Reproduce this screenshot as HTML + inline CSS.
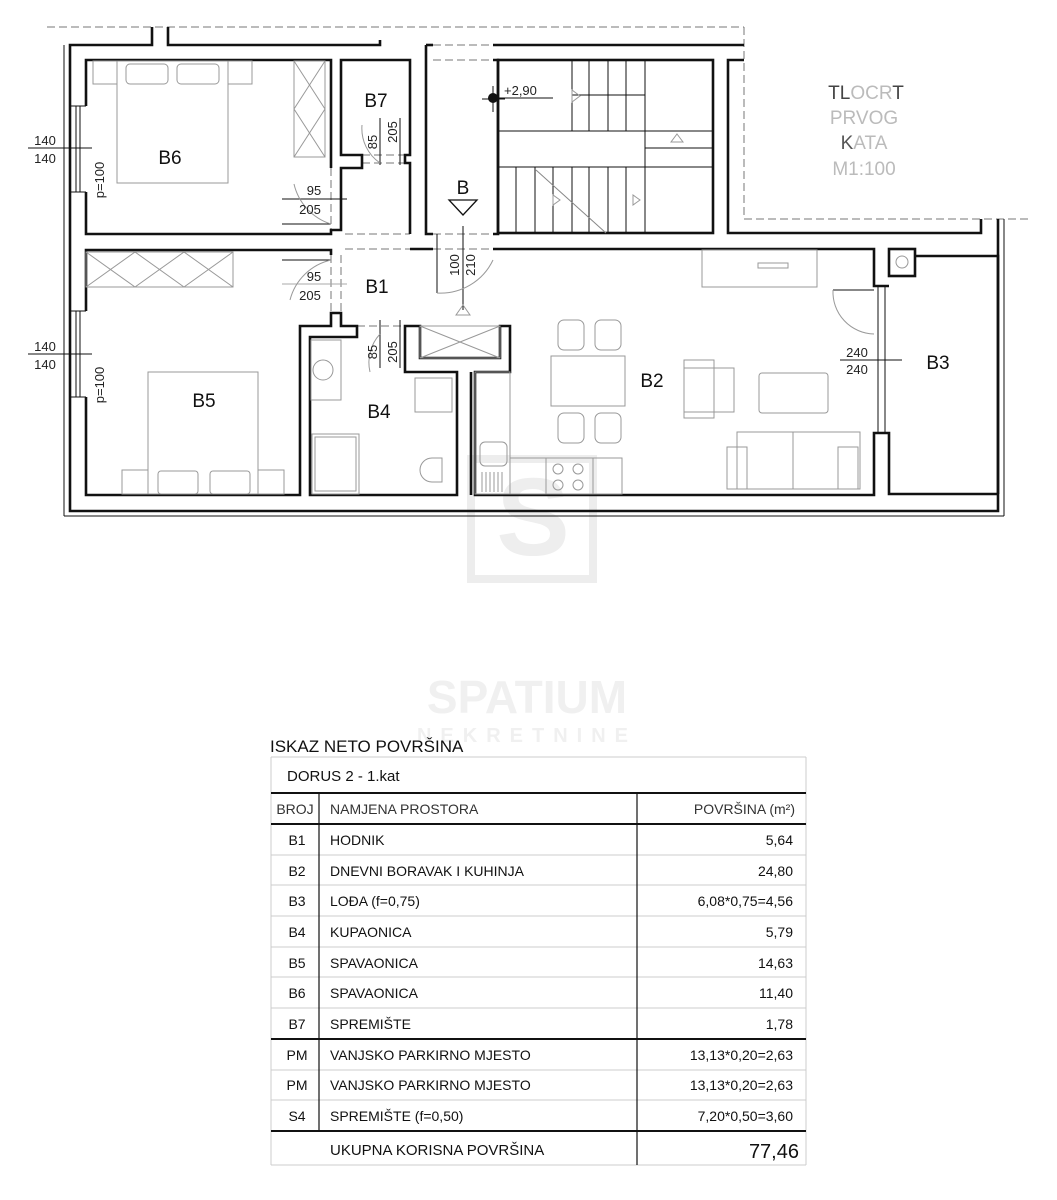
<!DOCTYPE html>
<html><head><meta charset="utf-8"><style>
html,body{margin:0;padding:0;background:#fff;}
body{width:1057px;height:1200px;position:relative;overflow:hidden;font-family:"Liberation Sans",sans-serif;}
svg{position:absolute;left:0;top:0;}
</style></head><body>
<svg width="1057" height="1200" viewBox="0 0 1057 1200" xmlns="http://www.w3.org/2000/svg" font-family="Liberation Sans, sans-serif">
<!-- watermark -->
<rect x="471" y="459" width="122" height="120" fill="none" stroke="#ededed" stroke-width="8"/>
<text x="533" y="555" font-size="110" fill="#eeeeee" text-anchor="middle" font-weight="bold">S</text>
<text x="527" y="713" font-size="46" fill="#f0f0f0" text-anchor="middle" font-weight="bold">SPATIUM</text>
<text x="527" y="742" font-size="20" fill="#f0f0f0" text-anchor="middle" font-weight="bold" letter-spacing="9">NEKRETNINE</text>

<!-- dashed outlines -->
<g stroke="#777" stroke-width="1" fill="none" stroke-dasharray="8,4">
<line x1="47" y1="27" x2="744" y2="27"/>
<line x1="744" y1="27" x2="744" y2="219"/>
<line x1="744" y1="219" x2="1032" y2="219"/>
<line x1="331" y1="168" x2="331" y2="230"/><line x1="341" y1="168" x2="341" y2="230"/>
<line x1="331" y1="255" x2="331" y2="313"/><line x1="341" y1="255" x2="341" y2="313"/>
<line x1="345" y1="234" x2="410" y2="234"/><line x1="345" y1="249" x2="410" y2="249"/>
<line x1="362" y1="155" x2="405" y2="155"/><line x1="362" y1="163" x2="405" y2="163"/>
<line x1="357" y1="326" x2="405" y2="326"/>
<line x1="433" y1="45" x2="493" y2="45"/><line x1="433" y1="60" x2="493" y2="60"/>
<line x1="433" y1="234" x2="493" y2="234"/><line x1="433" y1="249" x2="493" y2="249"/>
</g>

<!-- walls -->
<g stroke="#111" stroke-width="2.6" fill="none" stroke-linejoin="miter">
<!-- outer top -->
<polyline points="152,27 152,45 70,45 70,511 998,511 998,219"/>
<polyline points="168,27 168,45 380,45 380,40"/>
<line x1="493" y1="45" x2="744" y2="45"/>
<line x1="426" y1="45" x2="433" y2="45"/>
<!-- left inner -->
<polyline points="86,106 86,60 331,60 331,168"/>
<polyline points="86,192 86,234 331,234 331,230 341,230 341,168 362,168 362,155 341,155 341,60 410,60 410,155 405,155 405,163 410,163 410,234"/>
<polyline points="86,311 86,250 331,250 331,255"/>
<polyline points="86,397 86,495 300,495 300,326 331,326 331,313 341,313 341,326 357,326 357,337 310,337 310,495 457,495 457,372 405,372 405,337 405,326 420,326 420,358 500,358 500,326 510,326 510,372 475,372 475,495 874,495 874,433 889,433 889,494 998,494"/>
<line x1="471" y1="372" x2="471" y2="495"/>
<!-- stair hall -->
<polyline points="426,45 426,234 433,234"/>
<polyline points="433,60 433,60"/>
<polyline points="410,249 433,249"/>
<polyline points="493,249 874,249 874,286 889,286"/>
<polyline points="493,234 498,234 498,60 493,60"/>
<rect x="498" y="60" width="215" height="173"/>
<polyline points="744,60 728,60 728,233 981,233 981,219"/>
<rect x="889" y="249" width="26" height="27"/>
<polyline points="915,256 998,256 998,494"/>
</g>
<g stroke="#111" stroke-width="1" fill="none">
<line x1="64" y1="45" x2="64" y2="516"/><line x1="64" y1="516" x2="1004" y2="516"/>
<line x1="1004" y1="219" x2="1004" y2="516"/>
<line x1="70" y1="106" x2="86" y2="106"/><line x1="70" y1="192" x2="86" y2="192"/>
<line x1="76" y1="106" x2="76" y2="192"/><line x1="80" y1="106" x2="80" y2="192"/>
<line x1="70" y1="311" x2="86" y2="311"/><line x1="70" y1="397" x2="86" y2="397"/>
<line x1="76" y1="311" x2="76" y2="397"/><line x1="80" y1="311" x2="80" y2="397"/>
<line x1="878" y1="286" x2="878" y2="433"/><line x1="885" y1="286" x2="885" y2="433"/>
<!-- stairs -->
<line x1="572" y1="60" x2="572" y2="131"/><line x1="589" y1="60" x2="589" y2="131"/>
<line x1="608" y1="60" x2="608" y2="131"/><line x1="626" y1="60" x2="626" y2="131"/>
<line x1="645" y1="60" x2="645" y2="233"/>
<line x1="498" y1="131" x2="713" y2="131"/><line x1="498" y1="167" x2="713" y2="167"/>
<line x1="645" y1="148" x2="713" y2="148"/><line x1="572" y1="95" x2="645" y2="95"/>
<line x1="516" y1="167" x2="516" y2="233"/><line x1="535" y1="167" x2="535" y2="233"/>
<line x1="553" y1="167" x2="553" y2="233"/><line x1="572" y1="167" x2="572" y2="233"/>
<line x1="589" y1="167" x2="589" y2="233"/><line x1="608" y1="167" x2="608" y2="233"/>
<line x1="626" y1="167" x2="626" y2="233"/>
<line x1="536" y1="170" x2="606" y2="233" stroke="#888"/>
<!-- dimensions -->
<line x1="28" y1="148" x2="92" y2="148"/><line x1="28" y1="354" x2="92" y2="354"/>
<line x1="282" y1="199" x2="347" y2="199"/><line x1="282" y1="224" x2="331" y2="224"/>
<line x1="282" y1="260" x2="331" y2="260"/><line x1="282" y1="284" x2="347" y2="284" stroke="#aaa"/>
<line x1="380" y1="118" x2="380" y2="165"/><line x1="400" y1="118" x2="400" y2="165"/>
<line x1="380" y1="320" x2="380" y2="368"/><line x1="400" y1="320" x2="400" y2="368"/>
<line x1="437" y1="234" x2="437" y2="293"/><line x1="463" y1="226" x2="463" y2="310"/>
<line x1="840" y1="360" x2="902" y2="360"/>
<line x1="490" y1="98" x2="553" y2="98"/><line x1="493" y1="86" x2="493" y2="112"/>
<line x1="482" y1="99" x2="505" y2="99"/>
<line x1="833" y1="290" x2="874" y2="290"/>
<line x1="572" y1="95" x2="572" y2="95"/>
</g>
<circle cx="493" cy="98" r="5" fill="#111"/>
<g stroke="#999" stroke-width="1" fill="none">
<path d="M331 224 A55 55 0 0 1 294 184"/><path d="M331 260 A55 55 0 0 0 290 300"/>
<path d="M380 163 A42 42 0 0 1 362 125"/><path d="M380 334 A42 42 0 0 0 370 372"/>
<path d="M437 293 A58 58 0 0 0 493 260"/><path d="M833 290 A42 42 0 0 0 874 334"/>
<polygon points="449,200 477,200 463,215" stroke="#111" stroke-width="1.3"/>
<polygon points="463,305 456,315 470,315"/>
<polygon points="572,90 572,102 580,96"/><polygon points="677,134 683,142 671,142"/>
<polygon points="553,195 553,205 560,200"/><polygon points="633,195 633,205 640,200"/>
<!-- B6 furniture -->
<rect x="93" y="61" width="24" height="23"/><rect x="228" y="61" width="24" height="23"/>
<rect x="117" y="61" width="111" height="122"/><rect x="126" y="64" width="42" height="20" rx="4"/><rect x="177" y="64" width="42" height="20" rx="4"/>
<rect x="294" y="61" width="31" height="96"/><path d="M294 61 L325 109 M325 61 L294 109 M294 109 L325 157 M325 109 L294 157"/>
<!-- B5 -->
<rect x="86" y="252" width="147" height="35"/><path d="M86 252 L135 287 M135 252 L86 287 M135 252 L184 287 M184 252 L135 287 M184 252 L233 287 M233 252 L184 287"/>
<rect x="148" y="372" width="110" height="122"/><rect x="122" y="470" width="26" height="24"/><rect x="258" y="470" width="26" height="24"/>
<rect x="158" y="471" width="40" height="23" rx="3"/><rect x="210" y="471" width="40" height="23" rx="3"/>
<!-- B4 -->
<rect x="311" y="340" width="30" height="60"/><circle cx="323" cy="370" r="10"/>
<rect x="312" y="434" width="47" height="60"/><rect x="315" y="437" width="41" height="54"/>
<rect x="415" y="378" width="37" height="34"/>
<path d="M432 458 a12 12 0 0 0 0 24 h10 v-24 z"/>
<rect x="420" y="326" width="80" height="32"/><path d="M420 326 L500 358 M500 326 L420 358"/>
<!-- kitchen -->
<rect x="475" y="372" width="35" height="122"/><rect x="480" y="442" width="27" height="24" rx="5"/>
<path d="M482 472 v20 M486 472 v20 M490 472 v20 M494 472 v20 M498 472 v20 M502 472 v20"/>
<rect x="510" y="458" width="36" height="36"/><rect x="546" y="458" width="47" height="36"/><rect x="593" y="458" width="29" height="36"/>
<circle cx="558" cy="469" r="5"/><circle cx="578" cy="469" r="5"/><circle cx="558" cy="485" r="5"/><circle cx="578" cy="485" r="5"/>
<!-- dining -->
<rect x="551" y="356" width="74" height="50"/>
<rect x="558" y="320" width="26" height="30" rx="6"/><rect x="595" y="320" width="26" height="30" rx="6"/>
<rect x="558" y="413" width="26" height="30" rx="6"/><rect x="595" y="413" width="26" height="30" rx="6"/>
<!-- living -->
<rect x="684" y="360" width="30" height="58"/><rect x="684" y="368" width="50" height="44"/>
<rect x="759" y="373" width="69" height="40" rx="3"/>
<rect x="737" y="432" width="123" height="57"/><rect x="727" y="447" width="20" height="42"/><rect x="838" y="447" width="20" height="42"/><line x1="793" y1="432" x2="793" y2="489"/>
<rect x="702" y="250" width="115" height="37"/><rect x="758" y="263" width="30" height="5"/>
<circle cx="902" cy="262" r="6"/>
</g>

<!-- labels -->
<g fill="#111" font-size="19">
<text x="170" y="164" text-anchor="middle">B6</text>
<text x="204" y="407" text-anchor="middle">B5</text>
<text x="376" y="107" text-anchor="middle">B7</text>
<text x="377" y="293" text-anchor="middle">B1</text>
<text x="379" y="418" text-anchor="middle">B4</text>
<text x="652" y="387" text-anchor="middle">B2</text>
<text x="938" y="369" text-anchor="middle">B3</text>
<text x="463" y="194" text-anchor="middle">B</text>
</g>
<g fill="#222" font-size="13">
<text x="45" y="145" text-anchor="middle">140</text><text x="45" y="163" text-anchor="middle">140</text>
<text x="45" y="351" text-anchor="middle">140</text><text x="45" y="369" text-anchor="middle">140</text>
<text x="314" y="195" text-anchor="middle">95</text><text x="310" y="214" text-anchor="middle">205</text>
<text x="314" y="281" text-anchor="middle">95</text><text x="310" y="300" text-anchor="middle">205</text>
<text x="857" y="357" text-anchor="middle">240</text><text x="857" y="374" text-anchor="middle">240</text>
<text x="504" y="95">+2,90</text>
<text transform="translate(104,180) rotate(-90)" text-anchor="middle">p=100</text>
<text transform="translate(104,385) rotate(-90)" text-anchor="middle">p=100</text>
<text transform="translate(377,142) rotate(-90)" text-anchor="middle">85</text>
<text transform="translate(397,132) rotate(-90)" text-anchor="middle">205</text>
<text transform="translate(377,352) rotate(-90)" text-anchor="middle">85</text>
<text transform="translate(397,352) rotate(-90)" text-anchor="middle">205</text>
<text transform="translate(459,265) rotate(-90)" text-anchor="middle">100</text>
<text transform="translate(475,265) rotate(-90)" text-anchor="middle">210</text>
</g>
<g font-size="19" text-anchor="middle" fill="#bbb">
<text x="866" y="99"><tspan fill="#444">TL</tspan>OCR<tspan fill="#444">T</tspan></text>
<text x="864" y="124">PRVOG</text>
<text x="864" y="149"><tspan fill="#555">K</tspan>ATA</text>
<text x="864" y="175">M1:100</text>
</g>

<!-- table -->
<text x="270" y="752" font-size="17" fill="#111">ISKAZ NETO POVRŠINA</text>
<g stroke="#ccc" stroke-width="1" fill="none">
<line x1="271" y1="757" x2="806" y2="757"/>
<line x1="271" y1="757" x2="271" y2="1165"/><line x1="806" y1="757" x2="806" y2="1165"/>
<line x1="271" y1="1165" x2="806" y2="1165"/>
<line x1="271" y1="855" x2="806" y2="855"/><line x1="271" y1="885" x2="806" y2="885"/>
<line x1="271" y1="916" x2="806" y2="916"/><line x1="271" y1="947" x2="806" y2="947"/>
<line x1="271" y1="977" x2="806" y2="977"/><line x1="271" y1="1008" x2="806" y2="1008"/>
<line x1="271" y1="1070" x2="806" y2="1070"/><line x1="271" y1="1100" x2="806" y2="1100"/>
</g>
<g stroke="#111" stroke-width="2" fill="none">
<line x1="271" y1="793" x2="806" y2="793"/><line x1="271" y1="824" x2="806" y2="824"/>
<line x1="271" y1="1039" x2="806" y2="1039"/><line x1="271" y1="1131" x2="806" y2="1131"/>
</g>
<g stroke="#111" stroke-width="1.2">
<line x1="319" y1="793" x2="319" y2="1131"/><line x1="637" y1="793" x2="637" y2="1165"/>
</g>
<g font-size="14" fill="#111">
<text x="287" y="781" font-size="15">DORUS 2 - 1.kat</text>
<text x="295" y="814" text-anchor="middle" fill="#333">BROJ</text>
<text x="330" y="814" fill="#333">NAMJENA PROSTORA</text>
<text x="795" y="814" text-anchor="end" fill="#333">POVRŠINA (m²)</text>
<g text-anchor="middle">
<text x="297" y="845">B1</text><text x="297" y="876">B2</text><text x="297" y="906">B3</text><text x="297" y="937">B4</text>
<text x="297" y="968">B5</text><text x="297" y="998">B6</text><text x="297" y="1029">B7</text>
<text x="297" y="1060">PM</text><text x="297" y="1090">PM</text><text x="297" y="1121">S4</text>
</g>
<text x="330" y="845">HODNIK</text><text x="330" y="876">DNEVNI BORAVAK I KUHINJA</text>
<text x="330" y="906">LOĐA (f=0,75)</text><text x="330" y="937">KUPAONICA</text>
<text x="330" y="968">SPAVAONICA</text><text x="330" y="998">SPAVAONICA</text>
<text x="330" y="1029">SPREMIŠTE</text>
<text x="330" y="1060">VANJSKO PARKIRNO MJESTO</text><text x="330" y="1090">VANJSKO PARKIRNO MJESTO</text>
<text x="330" y="1121">SPREMIŠTE (f=0,50)</text>
<g text-anchor="end">
<text x="793" y="845">5,64</text><text x="793" y="876">24,80</text><text x="793" y="906">6,08*0,75=4,56</text>
<text x="793" y="937">5,79</text><text x="793" y="968">14,63</text><text x="793" y="998">11,40</text>
<text x="793" y="1029">1,78</text><text x="793" y="1060">13,13*0,20=2,63</text><text x="793" y="1090">13,13*0,20=2,63</text>
<text x="793" y="1121">7,20*0,50=3,60</text>
<text x="799" y="1158" font-size="20">77,46</text>
</g>
<text x="330" y="1155" font-size="15">UKUPNA KORISNA POVRŠINA</text>
</g>
</svg>
</body></html>
